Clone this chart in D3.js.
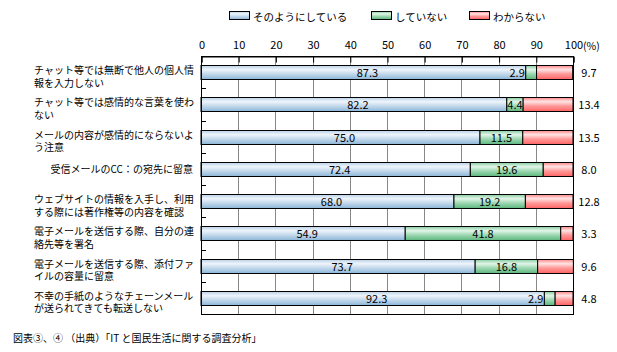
<!DOCTYPE html>
<html>
<head>
<meta charset="utf-8">
<script src="https://cdn.jsdelivr.net/npm/d3@7"></script>
<style>
  body { margin: 0; background: #fff; }
  text { font-family: "Noto Sans CJK JP", sans-serif; fill: #000; }
</style>
</head>
<body>
<svg id="chart" width="617" height="352"></svg>
<script>
const width = 617;
const height = 352;

// Category labels, one entry per line
const categories = [
    ["チャット等では無断で他人の個人情", "報を入力しない"],
    ["チャット等では感情的な言葉を使わ", "ない"],
    ["メールの内容が感情的にならないよ", "う注意"],
    ["受信メールのCC：の宛先に留意"],
    ["ウェブサイトの情報を入手し、利用", "する際には著作権等の内容を確認"],
    ["電子メールを送信する際、自分の連", "絡先等を署名"],
    ["電子メールを送信する際、添付ファ", "イルの容量に留意"],
    ["不幸の手紙のようなチェーンメール", "が送られてきても転送しない"]
];

const seriesNames = ["そのようにしている", "していない", "わからない"];
const doing = [87.3, 82.2, 75.0, 72.4, 68.0, 54.9, 73.7, 92.3];
const notDoing = [2.9, 4.4, 11.5, 19.6, 19.2, 41.8, 16.8, 2.9];
const unknown = [9.7, 13.4, 13.5, 8.0, 12.8, 3.3, 9.6, 4.8];
const ticks = [0, 10, 20, 30, 40, 50, 60, 70, 80, 90, 100];

const svg = d3.select("#chart");
const fmt = d3.format(".1f");

const x = d3.scaleLinear().domain([0, 100]).range([201, 573]);
const y = d3.scaleBand().domain(d3.range(categories.length)).range([56, 314]);
const barH = 14;

// Gradients for the bar fills
const grads = [
    {id: "g-blue", stops: ["#b9d1e8", "#eef4fb", "#c4d9ec", "#8bb5d7"]},
    {id: "g-green", stops: ["#86cc9f", "#e2f5e8", "#9ed8b2", "#5bb57c"]},
    {id: "g-red", stops: ["#ff8787", "#ffe4e4", "#ff9a9a", "#ff6464"]}
];
const defs = svg.append("defs");
grads.forEach(g => {
    const lg = defs.append("linearGradient")
        .attr("id", g.id)
        .attr("x1", 0).attr("y1", 0).attr("x2", 0).attr("y2", 1);
    [0, 0.3, 0.6, 1].forEach((o, i) => {
        lg.append("stop").attr("offset", o).attr("stop-color", g.stops[i]);
    });
});

// Legend
const legendX = [229, 371, 469];
seriesNames.forEach((name, i) => {
    svg.append("rect")
        .attr("x", legendX[i] + 0.5).attr("y", 11.5)
        .attr("width", 20).attr("height", 8)
        .attr("fill", `url(#${grads[i].id})`)
        .attr("stroke", "#000");
    svg.append("text")
        .attr("x", legendX[i] + 24).attr("y", 16)
        .attr("dominant-baseline", "central")
        .attr("font-size", 10.5)
        .text(name);
});

// Gridlines
svg.append("g")
    .selectAll("line")
    .data(ticks.slice(1, -1))
    .join("line")
    .attr("x1", d => Math.round(x(d)) + 0.5)
    .attr("x2", d => Math.round(x(d)) + 0.5)
    .attr("y1", 56).attr("y2", 314)
    .attr("stroke", "#888");

// Top axis
const axis = svg.append("g")
    .attr("transform", "translate(0.5,56.5)")
    .call(d3.axisTop(x).tickValues(ticks).tickSize(-6).tickPadding(6).tickFormat(d3.format("d")));
axis.select(".domain").attr("stroke", "#000");
axis.selectAll(".tick line").attr("stroke", "#000");
axis.selectAll(".tick text")
    .attr("font-family", "Noto Sans CJK JP, sans-serif")
    .attr("font-size", 11)
    .attr("y", -11.5)
    .attr("dy", "0.35em")
    .attr("fill", "#000");
svg.append("text")
    .attr("x", x(100) + 10).attr("y", 45)
    .attr("dominant-baseline", "central")
    .attr("font-size", 10.5)
    .text("(%)");

// Left ticks at band boundaries
svg.append("g")
    .selectAll("line")
    .data(d3.range(1, categories.length))
    .join("line")
    .attr("x1", 201).attr("x2", 206)
    .attr("y1", d => Math.round(y(d)) + 0.5)
    .attr("y2", d => Math.round(y(d)) + 0.5)
    .attr("stroke", "#000");

// Bars
const rows = categories.map((c, i) => {
    const vals = [doing[i], notDoing[i], unknown[i]];
    let acc = 0;
    return vals.map((v, k) => {
        const s = {row: i, k, v, x0: acc, x1: acc + v};
        acc += v;
        return s;
    });
});

const barG = svg.append("g");
rows.forEach(segs => {
    const yy = Math.round(y(segs[0].row) + y.bandwidth() / 2 - barH / 2) + 0.5;
    barG.selectAll(null)
        .data(segs)
        .enter().append("rect")
        .attr("x", d => x(d.x0))
        .attr("y", yy)
        .attr("width", d => x(d.x1) - x(d.x0))
        .attr("height", barH)
        .attr("fill", d => `url(#${grads[d.k].id})`)
        .attr("stroke", "#000");
});

// Value labels
rows.forEach(segs => {
    const cy = y(segs[0].row) + y.bandwidth() / 2;
    const [a, b, c] = segs;
    svg.append("text")
        .attr("x", (x(a.x0) + x(a.x1)) / 2 + 4).attr("y", cy)
        .attr("text-anchor", "middle").attr("dominant-baseline", "central")
        .attr("font-size", 11)
        .text(fmt(a.v));
    const narrow = x(b.x1) - x(b.x0) < 15;
    svg.append("text")
        .attr("x", narrow ? x(b.x0) - 1 : (x(b.x0) + x(b.x1)) / 2)
        .attr("y", cy)
        .attr("text-anchor", narrow ? "end" : "middle")
        .attr("dominant-baseline", "central")
        .attr("font-size", 11)
        .text(fmt(b.v));
    svg.append("text")
        .attr("x", 589).attr("y", cy)
        .attr("text-anchor", "middle").attr("dominant-baseline", "central")
        .attr("font-size", 11)
        .text(fmt(c.v));
});

// Plot frame
svg.append("rect")
    .attr("x", 201.5).attr("y", 56.5)
    .attr("width", 372).attr("height", 258)
    .attr("fill", "none")
    .attr("stroke", "#000");

// Category labels
categories.forEach((lines, i) => {
    const cy = y(i) + y.bandwidth() / 2;
    if (lines.length === 1) {
        svg.append("text")
            .attr("x", 193).attr("y", cy)
            .attr("text-anchor", "end").attr("dominant-baseline", "central")
            .attr("font-size", 10)
            .text(lines[0]);
    } else {
        lines.forEach((t, j) => {
            svg.append("text")
                .attr("x", 34).attr("y", cy - 2.5 + j * 12.5)
                .attr("dominant-baseline", "central")
                .attr("font-size", 10)
                .text(t);
        });
    }
});

// Source note
svg.append("text")
    .attr("x", 13).attr("y", 337)
    .attr("dominant-baseline", "central")
    .attr("font-size", 10)
    .text("図表③、④ （出典）「IT と国民生活に関する調査分析」");
</script>
</body>
</html>
